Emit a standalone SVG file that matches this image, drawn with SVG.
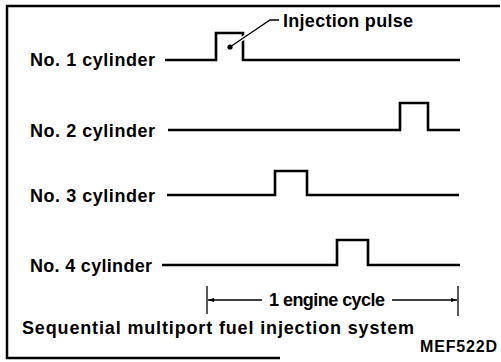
<svg xmlns="http://www.w3.org/2000/svg" width="501" height="362" viewBox="0 0 501 362">
<style>
text{font-family:"Liberation Sans",Arial,sans-serif;font-weight:bold;fill:#000}
.lbl{font-size:18px}
.sig{fill:none;stroke:#000;stroke-width:2.6;stroke-linejoin:miter}
.dim{fill:none;stroke:#000;stroke-width:1.3}
.frame{fill:none;stroke:#000;stroke-width:2.5}
</style>
<defs>
<marker id="ah" viewBox="0 0 10 10" refX="10" refY="5" markerWidth="10" markerHeight="6" orient="auto-start-reverse" markerUnits="userSpaceOnUse">
<path d="M0,1.5 L10,5 L0,8.5 Z" fill="#000"/>
</marker>
</defs>
<g id="frame">
<path class="frame" d="M500,6 H7 V358 H280"/>
</g>
<g id="cyl1">
<text class="lbl" x="30" y="66" textLength="125">No. 1 cylinder</text>
</g>
<g id="cyl2">
<text class="lbl" x="30" y="137" textLength="125">No. 2 cylinder</text>
</g>
<g id="cyl3">
<text class="lbl" x="30" y="202" textLength="125">No. 3 cylinder</text>
</g>
<g id="cyl4">
<text class="lbl" x="30" y="272" textLength="122">No. 4 cylinder</text>
</g>
<g id="pulse-label">
<text class="lbl" x="283" y="27" textLength="130">Injection pulse</text>
</g>
<g id="cycle-label">
<text class="lbl" x="269" y="306" textLength="116">1 engine cycle</text>
</g>
<g id="title">
<text class="lbl" x="22" y="334" textLength="392">Sequential multiport fuel injection system</text>
</g>
<g id="code">
<text x="420" y="352" font-size="16" textLength="77">MEF522D</text>
</g>
<g id="connectors">
<path class="sig" d="M165,60 H216 V33 H243 V60 H460"/>
<path class="sig" d="M168,130 H400 V103 H428 V130 H460"/>
<path class="sig" d="M167,195 H275 V171 H307 V195 H459"/>
<path class="sig" d="M162,265 H337 V240 H368 V265 H460"/>
<path d="M230,47 L270,20 H279" fill="none" stroke="#fff" stroke-width="4"/>
<path d="M230,47 L270,20 H279" fill="none" stroke="#000" stroke-width="1.3"/>
<circle cx="230" cy="47" r="2.6" fill="#000"/>
<path class="dim" d="M207,286 V314 M458,286 V316"/>
<path class="dim" d="M262,300 H208" marker-end="url(#ah)"/>
<path class="dim" d="M392,300 H457" marker-end="url(#ah)"/>
</g>
</svg>
